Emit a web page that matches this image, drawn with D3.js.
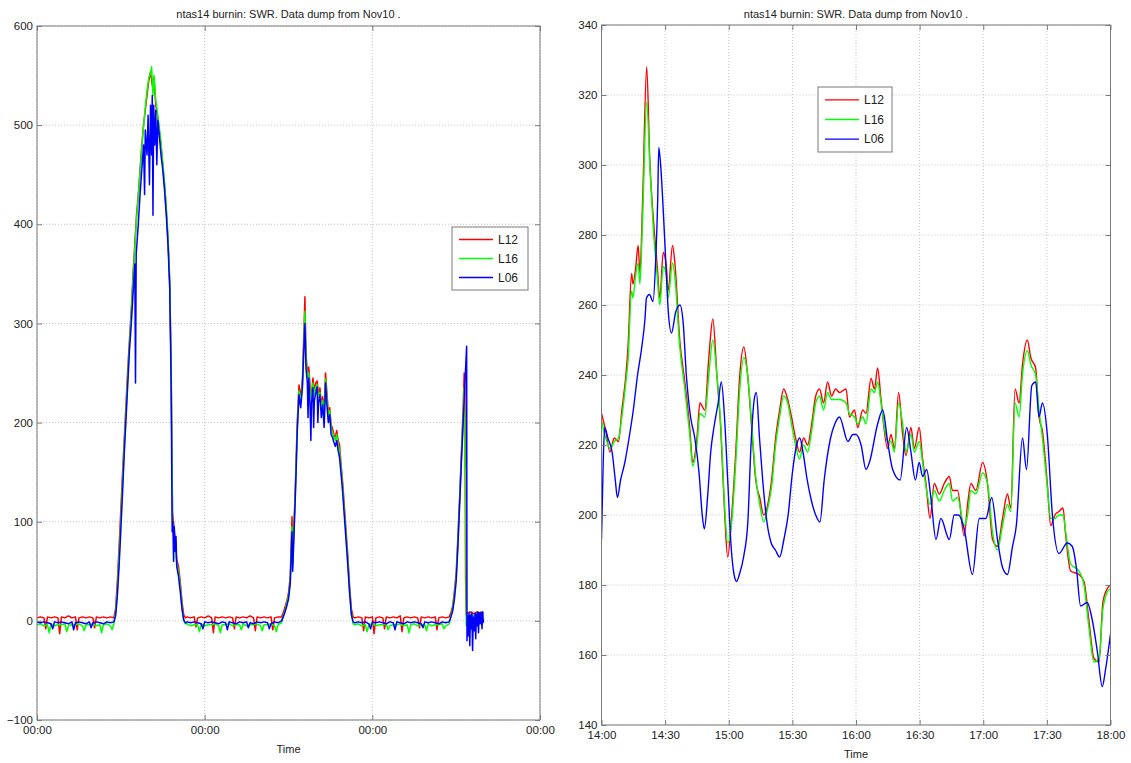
<!DOCTYPE html>
<html>
<head>
<meta charset="utf-8">
<script src="https://cdn.jsdelivr.net/npm/d3@7"></script>
<style>
  html, body { margin: 0; padding: 0; background: #fff; }
  svg { display: block; font-family: "Liberation Sans", Arial, Helvetica, sans-serif; }
</style>
</head>
<body>
<svg id="chart" width="1131" height="763"></svg>
<script>
// ---------------------------------------------------------------
// SWR burn-in records for three sensors (L12, L16, L06)
// Left panel: full dump, time in hours after Nov 10 00:00
// Right panel: close-up of one afternoon, minutes after 14:00
// ---------------------------------------------------------------
const titleText = "ntas14 burnin: SWR. Data dump from Nov10 .";
const seriesNames = ["L12", "L16", "L06"];
const seriesColors = ["#ff0000", "#00ff00", "#0000ff"];

const dumpYTicks = [-100, 0, 100, 200, 300, 400, 500, 600];
const dumpXTickHours = [0, 24, 48, 72];
const zoomYTicks = [140, 160, 180, 200, 220, 240, 260, 280, 300, 320, 340];
const zoomXTickMinutes = [0, 30, 60, 90, 120, 150, 180, 210, 240];

// full dump: [hours, W/m2]
const dumpL12 = [
  [0,3],[0.5,4],[1,3],[1.25,-8],[1.5,4],[2,3],[2.5,4],[3,3],[3.25,-13],[3.5,4],[4,3],[4.5,5],[5,3],[5.5,4],[5.75,-9],[6,3],[6.5,4],[7,3],[7.5,4],[8,3],[8.25,-7],[8.5,4],[9,3],[9.5,4],[10,3],[10.5,4],[11,3],
  [11.25,12],[11.5,40],[11.75,75],[12,112],[12.25,150],[12.5,185],[12.75,220],[13,255],[13.25,285],[13.5,315],[13.75,350],[14,380],[14.25,410],[14.5,430],[14.75,455],[15,480],[15.25,500],[15.5,515],[15.75,530],[16,545],[16.25,554],[16.5,540],[16.75,548],[17,520],[17.25,510],[17.5,495],[17.75,480],[18,460],[18.25,440],[18.5,415],[18.75,385],[19,340],[19.2,260],[19.4,110],[19.6,95],[19.8,78],[20,62],[20.25,55],[20.5,40],[20.75,20],[21,6],[21.25,3],
  [21.5,4],[22,3],[22.5,4],[22.75,-6],[23,3],[23.5,4],[24,3],[24.5,5],[25,3],[25.25,-12],[25.5,4],[26,3],[26.5,4],[27,3],[27.5,4],[28,3],[28.25,-8],[28.5,4],[29,3],[29.5,4],[30,3],[30.5,5],[31,3],[31.25,-10],[31.5,4],[32,3],[32.5,4],[33,3],[33.5,4],[33.75,-9],[34,3],[34.5,4],[35,4],
  [35.25,8],[35.5,14],[35.75,20],[36,28],[36.25,45],[36.5,105],[36.6,60],[36.75,90],[37,140],[37.25,200],[37.5,238],[37.75,225],[38,245],[38.2,290],[38.35,327],[38.5,270],[38.7,250],[38.9,256],[39.1,235],[39.3,228],[39.5,245],[39.7,232],[39.9,240],[40.1,242],[40.3,228],[40.5,235],[40.7,218],[40.9,226],[41.1,205],[41.3,250],[41.5,230],[41.7,210],[41.9,215],[42.1,198],[42.3,194],[42.5,188],[42.7,185],[42.9,192],[43.1,182],[43.3,178],[43.5,160],[43.75,140],[44,115],[44.25,90],[44.5,65],[44.75,35],[45,12],[45.25,4],
  [45.5,3],[46,4],[46.5,3],[46.75,-10],[47,4],[47.5,3],[48,4],[48.25,-13],[48.5,3],[49,4],[49.5,3],[49.75,-8],[50,4],[50.5,3],[51,4],[51.5,3],[52,5],[52.25,-11],[52.5,3],[53,4],[53.5,3],[54,4],[54.5,3],[54.75,-7],[55,4],[55.5,3],[56,4],[56.5,3],[57,4],[57.25,-9],[57.5,3],[58,4],[58.5,3],[59,4],
  [59.25,8],[59.5,15],[59.75,30],[60,48],[60.25,85],[60.5,125],[60.75,170],[61,215],[61.15,250],[61.25,230],[61.35,40],[61.45,6],[61.6,8],[62,9],[62.5,7],[63,9],[63.5,8],[63.9,9]
];
const dumpL16 = [
  [0,-4],[0.5,-3],[1,-5],[1.5,-4],[1.75,-12],[2,-3],[2.5,-5],[3,-4],[3.5,-4],[4,-3],[4.25,-11],[4.5,-5],[5,-4],[5.5,-4],[6,-3],[6.5,-5],[6.75,-10],[7,-4],[7.5,-4],[8,-3],[8.5,-5],[9,-4],[9.25,-12],[9.5,-4],[10,-3],[10.5,-5],[10.75,-9],[11,-3],
  [11.25,8],[11.5,30],[11.75,65],[12,100],[12.25,140],[12.5,178],[12.75,212],[13,248],[13.25,280],[13.5,310],[13.75,345],[14,375],[14.25,405],[14.5,428],[14.75,452],[15,478],[15.25,498],[15.5,518],[15.75,535],[16,548],[16.25,552],[16.4,559],[16.6,530],[16.75,550],[17,525],[17.25,512],[17.5,498],[17.75,482],[18,462],[18.25,442],[18.5,418],[18.75,388],[19,345],[19.2,250],[19.4,100],[19.6,90],[19.8,72],[20,58],[20.25,50],[20.5,35],[20.75,15],[21,0],[21.25,-3],
  [21.5,-3],[22,-5],[22.5,-4],[23,-4],[23.25,-11],[23.5,-3],[24,-5],[24.5,-4],[25,-4],[25.5,-3],[26,-5],[26.25,-12],[26.5,-4],[27,-4],[27.5,-3],[28,-5],[28.5,-4],[29,-4],[29.25,-9],[29.5,-3],[30,-5],[30.5,-4],[31,-4],[31.5,-3],[32,-5],[32.25,-10],[32.5,-4],[33,-4],[33.5,-3],[34,-5],[34.25,-11],[34.5,-4],[35,-2],
  [35.25,5],[35.5,10],[35.75,18],[36,25],[36.25,40],[36.5,95],[36.6,55],[36.75,85],[37,135],[37.25,195],[37.5,232],[37.75,220],[38,240],[38.2,280],[38.35,312],[38.5,265],[38.7,245],[38.9,250],[39.1,230],[39.3,224],[39.5,240],[39.7,228],[39.9,236],[40.1,238],[40.3,225],[40.5,230],[40.7,214],[40.9,222],[41.1,202],[41.3,244],[41.5,226],[41.7,206],[41.9,212],[42.1,195],[42.3,190],[42.5,185],[42.7,182],[42.9,188],[43.1,178],[43.3,172],[43.5,155],[43.75,135],[44,110],[44.25,85],[44.5,60],[44.75,30],[45,8],[45.25,-3],
  [45.5,-4],[46,-3],[46.5,-5],[47,-4],[47.25,-11],[47.5,-4],[48,-3],[48.5,-5],[49,-4],[49.5,-4],[50,-3],[50.25,-9],[50.5,-5],[51,-4],[51.5,-4],[52,-3],[52.5,-5],[53,-4],[53.25,-12],[53.5,-4],[54,-3],[54.5,-5],[55,-4],[55.5,-4],[55.75,-10],[56,-3],[56.5,-5],[57,-4],[57.5,-4],[58,-3],[58.25,-8],[58.5,-5],[59,-3],
  [59.25,5],[59.5,12],[59.75,26],[60,44],[60.25,80],[60.5,120],[60.75,165],[61,205],[61.15,235],[61.25,155],[61.35,150],[61.45,-5],[61.6,4],[62,6],[62.5,5],[63,7],[63.5,6],[63.9,7]
];
const dumpL06 = [
  [0,-1],[0.5,-2],[1,-1],[1.5,-2],[2,-3],[2.25,-8],[2.5,-1],[3,-2],[3.5,-1],[4,-2],[4.5,-3],[5,-1],[5.25,-9],[5.5,-2],[6,-1],[6.5,-2],[7,-3],[7.5,-1],[7.75,-7],[8,-2],[8.5,-1],[9,-2],[9.5,-3],[10,-1],[10.5,-2],[11,-1],
  [11.25,5],[11.5,25],[11.75,55],[12,92],[12.25,130],[12.5,170],[12.75,205],[13,240],[13.25,275],[13.5,300],[13.75,330],[14,360],[14.1,240],[14.2,370],[14.5,400],[14.75,430],[15,455],[15.25,480],[15.4,430],[15.5,495],[15.75,470],[15.9,510],[16.1,440],[16.25,520],[16.4,470],[16.5,530],[16.6,409],[16.7,520],[16.85,480],[17,515],[17.15,460],[17.3,505],[17.5,490],[17.75,470],[18,455],[18.25,435],[18.5,410],[18.75,380],[19,335],[19.2,240],[19.35,90],[19.45,100],[19.55,60],[19.65,95],[19.8,70],[19.9,85],[20,55],[20.25,45],[20.5,30],[20.75,12],[21,1],[21.25,-2],
  [21.5,-1],[22,-2],[22.5,-1],[23,-2],[23.5,-3],[23.75,-8],[24,-1],[24.5,-2],[25,-1],[25.5,-2],[26,-3],[26.5,-1],[27,-2],[27.25,-9],[27.5,-1],[28,-2],[28.5,-3],[29,-1],[29.5,-2],[30,-1],[30.25,-7],[30.5,-2],[31,-3],[31.5,-1],[32,-2],[32.5,-1],[33,-2],[33.25,-8],[33.5,-3],[34,-1],[34.5,-2],[35,0],
  [35.25,4],[35.5,9],[35.75,15],[36,22],[36.25,38],[36.5,90],[36.6,50],[36.75,80],[37,130],[37.25,190],[37.5,228],[37.75,215],[38,236],[38.2,275],[38.35,300],[38.5,255],[38.7,240],[38.8,205],[38.9,245],[39.1,215],[39.2,182],[39.3,220],[39.5,235],[39.6,195],[39.7,222],[39.9,230],[40.1,236],[40.2,200],[40.3,220],[40.5,228],[40.7,205],[40.9,218],[41.1,195],[41.3,240],[41.5,218],[41.7,200],[41.9,208],[42.1,188],[42.3,185],[42.5,180],[42.7,176],[42.9,182],[43.1,172],[43.3,165],[43.5,150],[43.75,130],[44,105],[44.25,80],[44.5,55],[44.75,28],[45,6],[45.25,-1],
  [45.5,-2],[46,-1],[46.5,-2],[47,-1],[47.5,-3],[47.75,-8],[48,-1],[48.5,-2],[49,-1],[49.5,-2],[50,-3],[50.5,-1],[51,-2],[51.25,-9],[51.5,-1],[52,-2],[52.5,-3],[53,-1],[53.5,-2],[54,-1],[54.5,-2],[55,-3],[55.25,-7],[55.5,-1],[56,-2],[56.5,-1],[57,-2],[57.5,-3],[58,-1],[58.5,-2],[59,-1],
  [59.25,4],[59.5,10],[59.75,22],[60,40],[60.25,75],[60.5,118],[60.75,160],[61,200],[61.2,230],[61.35,255],[61.5,277],[61.55,-20],[61.65,5],[61.75,-15],[61.85,8],[61.95,-25],[62.05,6],[62.15,-8],[62.25,9],[62.35,-30],[62.45,4],[62.6,-10],[62.7,8],[62.8,-18],[62.9,7],[63,-5],[63.1,9],[63.2,-12],[63.3,8],[63.45,-3],[63.55,9],[63.7,-8],[63.8,9],[63.9,-2]
];

// afternoon close-up: [minutes after 14:00, W/m2]
const zoomL12 = [
  [0,229],[2,224],[4,218],[6,222],[8,221],[9.6,230],[11.5,240],[12.5,248],[14.2,269],[14.8,266],[16,270],[17.3,277],[18.1,269],[19.4,290],[21.3,328],[22.8,301],[24.4,285],[26.3,271],[27.5,262],[29.1,275],[30.7,270],[31.4,264],[33.5,277],[34.6,272],[36.9,250],[39.3,238],[41.6,225],[43,215],[45,222],[46.4,232],[48.7,230],[50.6,245],[52.5,256],[54.4,240],[56.2,225],[58.1,200],[59.5,188],[61.4,200],[63.3,218],[65.2,240],[67.1,248],[68.9,240],[70.8,225],[72.7,210],[74.6,205],[76.5,200],[78.4,203],[80.2,210],[82.1,222],[84,230],[85.9,236],[87.8,233],[89.6,228],[91.5,222],[93.4,218],[95.3,222],[97.2,220],[99.1,226],[101,234],[102.8,236],[104.7,232],[106.6,238],[108.5,234],[110.4,236],
  [112.2,235],[115.3,236],[116.9,228],[119.3,230],[120.8,225],[123.2,230],[124.7,229],[127.1,239],[128.7,236],[130.2,242],[131.8,233],[134.9,219],[136.5,223],[138.1,219],[140.1,235],[142,223],[143.6,217],[145.9,225],[147.5,219],[149.8,225],[151.4,216],[153,209],[154.9,199],[156.9,209],[159.3,206],[161.6,209],[164,211],[165.5,207],[167.9,207],[171,194],[172.6,203],[174.2,209],[176.5,207],[179.7,215],[182,209],[184.4,193],[186.7,191],[189.1,199],[191.4,206],[193,202],[195,236],[196.9,232],[198.5,243],[200.8,250],[202.4,245],[204.7,242],[206.3,228],[207.9,224],[210.2,209],[211.8,197],[213.8,200],[215.7,201],[217.6,202],[218.9,194],[221.2,184],[225.1,183],[227.5,181],[229.8,170],[232.2,159],[234.6,158],[236.4,175],[238.5,179],[240,180]
];
const zoomL16 = [
  [0,227],[2,222],[4,219],[6,221],[8,222],[9.6,228],[11.5,238],[12.5,244],[14.2,264],[14.8,262],[16,268],[17.3,272],[18.1,266],[19.4,285],[21.3,318],[22.8,300],[24.4,282],[26.3,268],[27.5,260],[29.1,271],[30.7,268],[31.4,262],[33.5,272],[34.6,268],[36.9,248],[39.3,236],[41.6,223],[43,214],[45,220],[46.4,229],[48.7,228],[50.6,240],[52.5,250],[54.4,240],[56.2,226],[58.1,202],[59.5,192],[61.4,198],[63.3,215],[65.2,236],[67.1,245],[68.9,240],[70.8,226],[72.7,211],[74.6,203],[76.5,198],[78.4,202],[80.2,208],[82.1,220],[84,228],[85.9,234],[87.8,232],[89.6,226],[91.5,220],[93.4,216],[95.3,220],[97.2,218],[99.1,224],[101,232],[102.8,234],[104.7,230],[106.6,235],[108.5,233],[110.4,233],
  [112.2,233],[115.3,232],[116.9,229],[119.3,228],[120.8,226],[123.2,228],[124.7,226],[127.1,236],[128.7,235],[130.2,238],[131.8,232],[134.9,221],[136.5,221],[138.1,218],[140.1,232],[142,226],[143.6,218],[145.9,223],[147.5,218],[149.8,221],[151.4,215],[153,208],[154.9,203],[156.9,207],[159.3,204],[161.6,207],[164,209],[165.5,204],[167.9,205],[171,197],[172.6,200],[174.2,207],[176.5,206],[179.7,212],[182,209],[184.4,195],[186.7,190],[189.1,197],[191.4,203],[193,201],[195,232],[196.9,228],[198.5,240],[200.8,247],[202.4,243],[204.7,240],[206.3,230],[207.9,222],[210.2,208],[211.8,199],[213.8,199],[215.7,200],[217.6,200],[218.9,195],[221.2,186],[225.1,184],[227.5,180],[229.8,168],[232.2,158],[234.6,159],[236.4,173],[238.5,178],[240,179]
];
const zoomL06 = [
  [0,193],[0.8,215],[1.5,225],[3,222],[5,218],[6.5,210],[7.5,205],[9,210],[11,215],[13,222],[15,230],[17,240],[19,248],[20.5,256],[21.2,262],[22.6,263],[24.3,261],[25.5,272],[26.5,290],[27,305],[28,299],[29.2,286],[30.5,270],[31.5,258],[33,252],[35,258],[37,260],[38.5,255],[40,240],[42,228],[44,222],[46,212],[47.5,200],[48.5,196],[50,205],[51.5,218],[53,225],[55,232],[56.5,238],[58,228],[59.5,210],[61,192],[62.5,183],[63.7,181],[65,183],[67,188],[69,198],[70.5,220],[72,233],[73,235],[74.5,222],[76,210],[78,198],[80,192],[82,190],[84,188],[86,193],[88,200],[90,212],[92,220],[93.5,222],[95,218],[97,210],[99,204],[101,200],[103,198],[105,210],[108,222],[110,226],
  [112.2,228],[116.2,221],[118.5,223],[120,223],[122.4,220],[124.7,213],[126.3,215],[130.2,226],[132.6,230],[134.9,221],[137.3,213],[140.8,210],[143.9,225],[145.9,218],[148,210],[149.8,215],[151.4,211],[153.3,213],[155.3,205],[157.7,193],[160,199],[164,193],[166.3,200],[168.4,200],[171,196],[174.9,183],[178.1,199],[181.2,199],[184,205],[186.7,193],[189.1,185],[191.4,183],[193.8,191],[195.6,197],[198.5,222],[200.4,213],[202.9,237],[204.7,238],[206.3,228],[207.9,232],[210.2,223],[212.6,200],[215.7,189],[219.6,192],[222,191],[223.9,185],[225.9,174],[229,175],[231.4,170],[233.8,161],[236.1,151],[237.7,156],[240,166]
];

// ---------------------------------------------------------------
const svg = d3.select("#chart");
const dumpStart = new Date(2014, 10, 10, 0, 0);
const zoomStart = new Date(2014, 10, 10, 14, 0);
const atHours = h => new Date(dumpStart.getTime() + h * 3600e3);
const atMinutes = m => new Date(zoomStart.getTime() + m * 60e3);

const panels = [
  {
    id: "dump",
    box: { left: 37, right: 540, top: 26, bottom: 720 },
    xDomain: [atHours(0), atHours(72)],
    xTicks: dumpXTickHours.map(atHours),
    yDomain: [-100, 600],
    yTicks: dumpYTicks,
    series: [dumpL12, dumpL16, dumpL06].map(s => s.map(([h, v]) => [atHours(h), v])),
    lineWidth: 1.5,
    curve: d3.curveLinear,
    legend: { x: 452, y: 227, w: 76, h: 63 },
    xLabelY: 753
  },
  {
    id: "zoom",
    box: { left: 601.5, right: 1110.5, top: 25, bottom: 725 },
    xDomain: [atMinutes(0), atMinutes(240)],
    xTicks: zoomXTickMinutes.map(atMinutes),
    yDomain: [140, 340],
    yTicks: zoomYTicks,
    series: [zoomL12, zoomL16, zoomL06].map(s => s.map(([m, v]) => [atMinutes(m), v])),
    lineWidth: 1.4,
    curve: d3.curveMonotoneX,
    legend: { x: 818, y: 87, w: 74, h: 65 },
    xLabelY: 758
  }
];

const fmt = d3.timeFormat("%H:%M");
const axisColor = "#7a7a7a";
const textColor = "#222";

panels.forEach(p => {
  const b = p.box;
  const g = svg.append("g").attr("class", "panel-" + p.id);
  const x = d3.scaleTime().domain(p.xDomain).range([b.left, b.right]);
  const y = d3.scaleLinear().domain(p.yDomain).range([b.bottom, b.top]);

  // dotted grid
  const grid = g.append("g").attr("stroke", "#c4c4c4").attr("stroke-dasharray", "1,2").attr("stroke-width", 1);
  grid.selectAll("line.v").data(p.xTicks).join("line").attr("class", "v")
    .attr("x1", d => x(d)).attr("x2", d => x(d)).attr("y1", b.top).attr("y2", b.bottom);
  grid.selectAll("line.h").data(p.yTicks).join("line").attr("class", "h")
    .attr("x1", b.left).attr("x2", b.right).attr("y1", d => y(d)).attr("y2", d => y(d));

  // series lines
  const clipId = "clip-" + p.id;
  g.append("clipPath").attr("id", clipId).append("rect")
    .attr("x", b.left).attr("y", b.top).attr("width", b.right - b.left).attr("height", b.bottom - b.top);
  const line = d3.line().curve(p.curve).x(d => x(d[0])).y(d => y(d[1]));
  g.append("g").attr("clip-path", `url(#${clipId})`)
    .selectAll("path").data(p.series).join("path")
    .attr("d", line).attr("fill", "none")
    .attr("stroke", (d, i) => seriesColors[i])
    .attr("stroke-width", p.lineWidth)
    .attr("stroke-linejoin", "round");

  // axes with inward ticks on all four sides
  const styleAxis = sel => {
    sel.select(".domain").remove();
    sel.selectAll(".tick line").attr("stroke", axisColor);
    sel.selectAll(".tick text").attr("fill", textColor).style("font-size", "11.5px")
      .style("font-family", '"Liberation Sans", Arial, Helvetica, sans-serif');
  };
  g.append("g").attr("transform", `translate(0,${b.bottom})`)
    .call(d3.axisBottom(x).tickValues(p.xTicks).tickFormat(fmt).tickSizeInner(-5).tickSizeOuter(0).tickPadding(6))
    .call(styleAxis);
  g.append("g").attr("transform", `translate(0,${b.top})`)
    .call(d3.axisTop(x).tickValues(p.xTicks).tickFormat("").tickSizeInner(-5).tickSizeOuter(0))
    .call(styleAxis);
  g.append("g").attr("transform", `translate(${b.left},0)`)
    .call(d3.axisLeft(y).tickValues(p.yTicks).tickFormat(d3.format("d")).tickSizeInner(-5).tickSizeOuter(0).tickPadding(4))
    .call(styleAxis);
  g.append("g").attr("transform", `translate(${b.right},0)`)
    .call(d3.axisRight(y).tickValues(p.yTicks).tickFormat("").tickSizeInner(-5).tickSizeOuter(0))
    .call(styleAxis);

  // frame
  g.append("rect").attr("x", b.left).attr("y", b.top)
    .attr("width", b.right - b.left).attr("height", b.bottom - b.top)
    .attr("fill", "none").attr("stroke", axisColor).attr("stroke-width", 1);

  // title and x label
  const cx = (b.left + b.right) / 2;
  g.append("text").attr("x", cx).attr("y", 18).attr("text-anchor", "middle")
    .attr("fill", textColor).style("font-size", "11px").text(titleText);
  g.append("text").attr("x", cx).attr("y", p.xLabelY).attr("text-anchor", "middle")
    .attr("fill", textColor).style("font-size", "11px").text("Time");

  // legend
  const L = p.legend;
  const lg = g.append("g").attr("class", "legend");
  lg.append("rect").attr("x", L.x).attr("y", L.y).attr("width", L.w).attr("height", L.h)
    .attr("fill", "#fff").attr("stroke", axisColor).attr("stroke-width", 1);
  const rowGap = (L.h - 6) / 3;
  seriesNames.forEach((name, i) => {
    const ry = L.y + 3 + rowGap * (i + 0.5);
    lg.append("line").attr("x1", L.x + 7).attr("x2", L.x + 41).attr("y1", ry).attr("y2", ry)
      .attr("stroke", seriesColors[i]).attr("stroke-width", 1.4);
    lg.append("text").attr("x", L.x + 46).attr("y", ry).attr("dy", "0.36em")
      .attr("fill", textColor).style("font-size", "12px").text(name);
  });
});
</script>
</body>
</html>
